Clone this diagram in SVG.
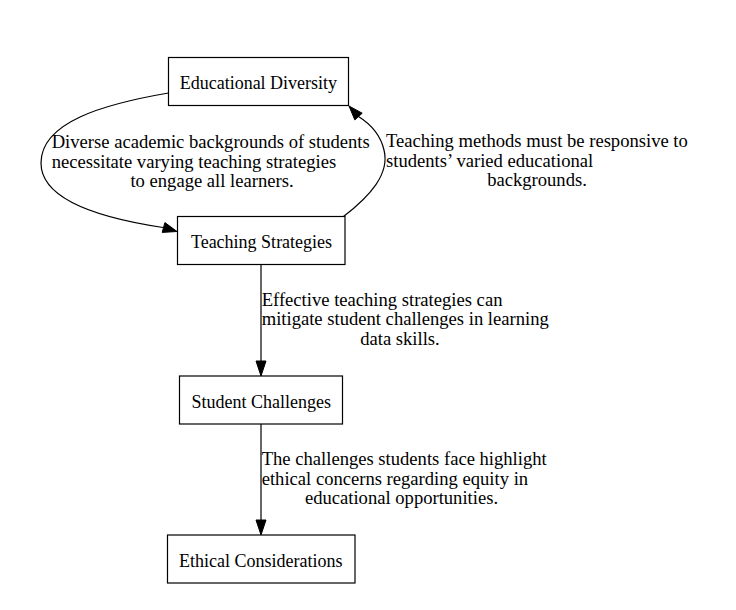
<svg xmlns="http://www.w3.org/2000/svg" width="736" height="610" viewBox="0 0 736 610">
<style>
  .node rect { fill: #ffffff; stroke: #000000; stroke-width: 1.2; }
  text { font-family: "Liberation Serif", "Times New Roman", serif; font-size: 18px; fill: #000000; }
  .edge text { font-size: 18.6px; }
  .mid { text-anchor: middle; }
  .edge path { fill: none; stroke: #000000; stroke-width: 1.2; }
  .edge polygon { fill: #000000; stroke: #000000; stroke-width: 1; }
</style>
<rect x="0" y="0" width="736" height="610" fill="#ffffff"/>
<g id="connectors">
  <g class="edge" id="e1">
    <path d="M168.5,93 C104,104 41,122 41,163 C41,200 100,218 163,227.5"/>
    <polygon points="177,231.5 162.2,232.4 164.9,222.6"/>
    <text x="51.7" y="148">Diverse academic backgrounds of students</text>
    <text x="51.7" y="167.5">necessitate varying teaching strategies</text>
    <text class="mid" x="212" y="187">to engage all learners.</text>
  </g>
  <g class="edge" id="e2">
    <path d="M343.5,216.5 C370,196 390,174 384,150 C381,137 372,125 358.5,116.5"/>
    <polygon points="349,106 362.2,113.2 354.8,119.9"/>
    <text x="386" y="147">Teaching methods must be responsive to</text>
    <text x="386" y="166.5">students’ varied educational</text>
    <text class="mid" x="537" y="186">backgrounds.</text>
  </g>
  <g class="edge" id="e3">
    <path d="M261,264.5 L261,361"/>
    <polygon points="261,376 256,361 266,361"/>
    <text x="261.7" y="305.5">Effective teaching strategies can</text>
    <text x="261.7" y="325">mitigate student challenges in learning</text>
    <text class="mid" x="400" y="344.5">data skills.</text>
  </g>
  <g class="edge" id="e4">
    <path d="M261,424 L261,520"/>
    <polygon points="261,535 256,520 266,520"/>
    <text x="261.7" y="465">The challenges students face highlight</text>
    <text x="261.7" y="484.5">ethical concerns regarding equity in</text>
    <text class="mid" x="401.5" y="504">educational opportunities.</text>
  </g>
</g>
<g class="node" id="educational_diversity">
  <rect x="168.5" y="57.5" width="180" height="48"/>
  <text class="mid" x="258.4" y="89">Educational Diversity</text>
</g>
<g class="node" id="teaching_strategies">
  <rect x="177.5" y="216.5" width="167.5" height="48"/>
  <text class="mid" x="261.5" y="248">Teaching Strategies</text>
</g>
<g class="node" id="student_challenges">
  <rect x="179.5" y="376" width="163" height="48"/>
  <text class="mid" x="261.2" y="407.5">Student Challenges</text>
</g>
<g class="node" id="ethical_considerations">
  <rect x="167.5" y="535" width="187.5" height="48"/>
  <text class="mid" x="260.8" y="567">Ethical Considerations</text>
</g>
</svg>
